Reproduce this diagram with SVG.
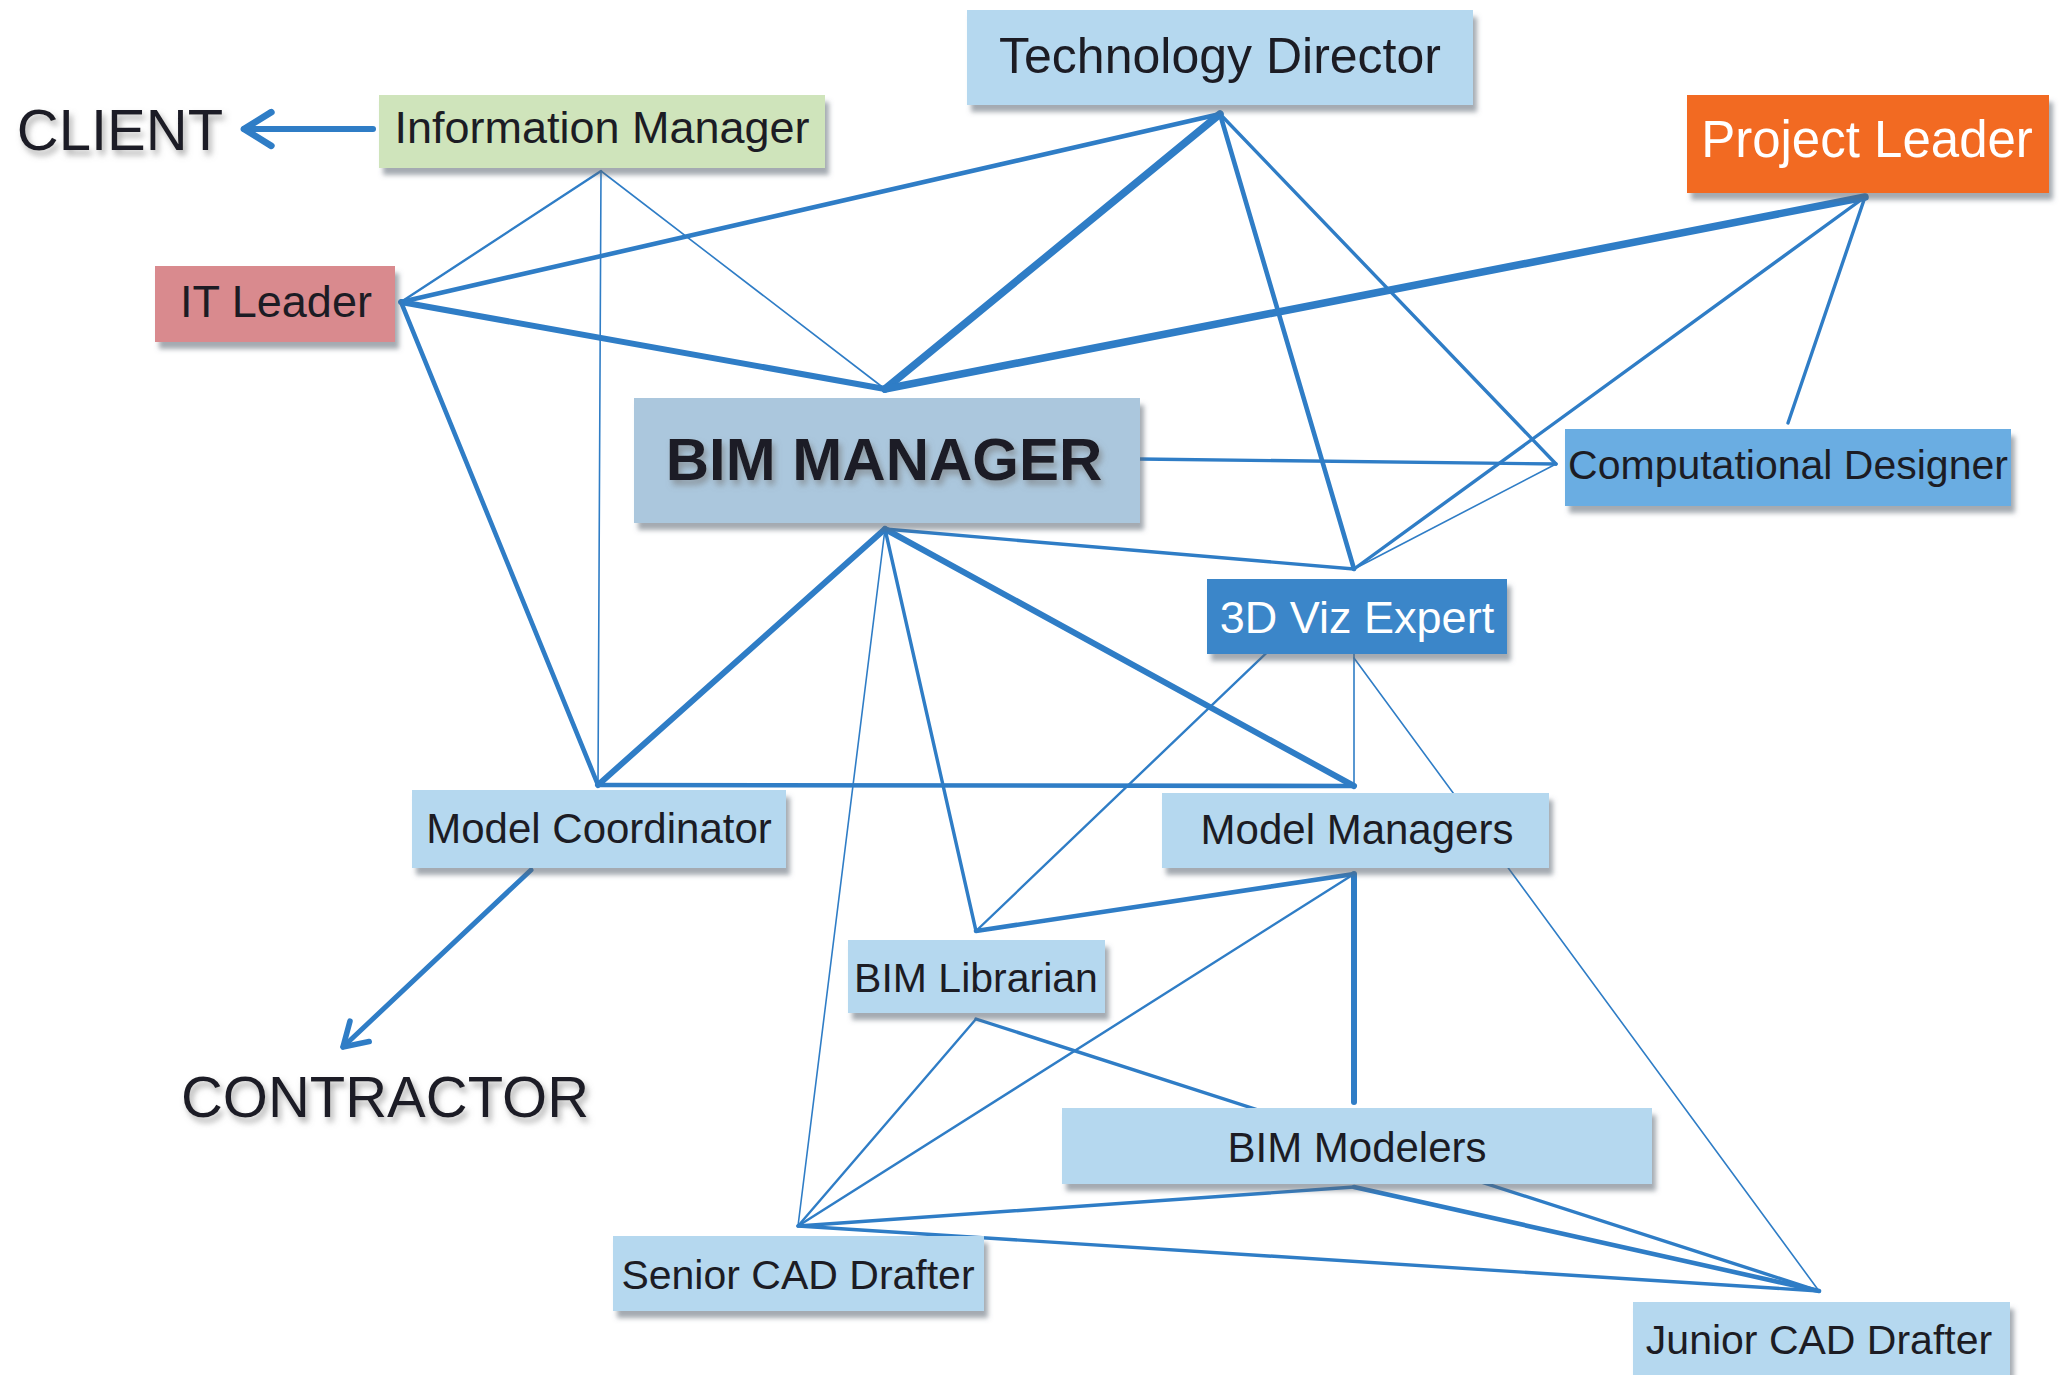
<svg xmlns="http://www.w3.org/2000/svg" width="2062" height="1375" viewBox="0 0 2062 1375">
<defs>
<filter id="sh" x="-10%" y="-10%" width="125%" height="140%">
<feDropShadow dx="4" dy="7" stdDeviation="2.5" flood-color="#5a6470" flood-opacity="0.55"/>
</filter>
<filter id="tsh" x="-10%" y="-20%" width="125%" height="160%">
<feDropShadow dx="3" dy="5" stdDeviation="3" flood-color="#777" flood-opacity="0.6"/>
</filter>
<marker id="chev" viewBox="0 0 20 20" refX="17" refY="10" markerWidth="7" markerHeight="7" orient="auto" markerUnits="strokeWidth">
<path d="M4 2 L17 10 L4 18" fill="none" stroke="#2f7dc6" stroke-width="3.2" stroke-linecap="round" stroke-linejoin="round"/>
</marker>
</defs>
<style>
.c{stroke:#2f7dc6;fill:none;stroke-linecap:round}
.w1{stroke-width:1.6}
.w2{stroke-width:2.4}
.w3{stroke-width:3.4}
.w4{stroke-width:4.6}
.w5{stroke-width:6}
.w6{stroke-width:7.5}
.box{filter:url(#sh)}
.lb{fill:#b5d8ef}
.t{font-family:"Liberation Sans",Arial,sans-serif;fill:#1c1c24;text-anchor:middle}
.big{font-family:"Liberation Sans",Arial,sans-serif;fill:#1e1e26;text-anchor:middle;filter:url(#tsh)}
</style>
<rect width="2062" height="1375" fill="#ffffff"/>
<g id="connectors">
<line class="c w2" x1="601" y1="171" x2="401" y2="302"/>
<line class="c w1" x1="601" y1="171" x2="598" y2="785"/>
<line class="c w1" x1="601" y1="171" x2="885" y2="389"/>
<line class="c w4" x1="401" y1="302" x2="1220" y2="114"/>
<line class="c w5" x1="401" y1="302" x2="885" y2="389"/>
<line class="c w4" x1="401" y1="302" x2="598" y2="785"/>
<line class="c w6" x1="1220" y1="114" x2="885" y2="389"/>
<line class="c w3" x1="1220" y1="114" x2="1556" y2="464"/>
<line class="c w4" x1="1220" y1="114" x2="1354" y2="569"/>
<line class="c w6" x1="1865" y1="197" x2="885" y2="389"/>
<line class="c w3" x1="1865" y1="197" x2="1354" y2="569"/>
<line class="c w3" x1="1865" y1="197" x2="1788" y2="423"/>
<line class="c w3" x1="1139" y1="459" x2="1556" y2="464"/>
<line class="c w1" x1="1556" y1="464" x2="1354" y2="569"/>
<line class="c w3" x1="885" y1="529" x2="1354" y2="569"/>
<line class="c w5" x1="885" y1="529" x2="1354" y2="786"/>
<line class="c w5" x1="885" y1="529" x2="598" y2="785"/>
<line class="c w3" x1="885" y1="529" x2="976" y2="931"/>
<line class="c w1" x1="885" y1="529" x2="798" y2="1226"/>
<line class="c w4" x1="598" y1="785" x2="1354" y2="786"/>
<line class="c w1" x1="1354" y1="620" x2="1354" y2="786"/>
<line class="c w2" x1="1305" y1="616" x2="976" y2="931"/>
<line class="c w1" x1="1354" y1="658" x2="1819" y2="1291"/>
<line class="c w4" x1="1354" y1="874" x2="976" y2="931"/>
<line class="c w5" x1="1354" y1="874" x2="1354" y2="1102"/>
<line class="c w2" x1="1354" y1="874" x2="798" y2="1226"/>
<line class="c w2" x1="976" y1="1019" x2="798" y2="1226"/>
<line class="c w3" x1="976" y1="1019" x2="1819" y2="1291"/>
<line class="c w3" x1="1354" y1="1187" x2="798" y2="1226"/>
<line class="c w4" x1="1354" y1="1187" x2="1819" y2="1291"/>
<line class="c w3" x1="798" y1="1226" x2="1819" y2="1291"/>
<line class="c" stroke-width="6" x1="373" y1="129" x2="244" y2="129" marker-end="url(#chev)"/>
<line class="c" stroke-width="5" x1="531" y1="870" x2="343" y2="1047" marker-end="url(#chev)"/>
</g>
<g id="client"><text class="big" x="120" y="150" font-size="58">CLIENT</text></g>
<g id="contractor"><text class="big" x="385" y="1117" font-size="58">CONTRACTOR</text></g>
<g id="technology-director">
<rect class="box" x="967" y="10" width="506" height="95" fill="#b5d8ef"/>
<text class="t" x="1220" y="73" font-size="50">Technology Director</text>
</g>
<g id="project-leader">
<rect class="box" x="1687" y="95" width="362" height="98" fill="#f26b22"/>
<text class="t" x="1867" y="157" font-size="51" style="fill:#ffffff">Project Leader</text>
</g>
<g id="information-manager">
<rect class="box" x="379" y="95" width="446" height="73" fill="#cfe4bb"/>
<text class="t" x="602" y="143" font-size="45">Information Manager</text>
</g>
<g id="it-leader">
<rect class="box" x="155" y="266" width="240" height="76" fill="#d98a8e"/>
<text class="t" x="276" y="317" font-size="45">IT Leader</text>
</g>
<g id="bim-manager">
<rect class="box" x="634" y="398" width="506" height="125" fill="#abc7dd"/>
<text class="big" x="884" y="480" font-size="60" font-weight="bold">BIM MANAGER</text>
</g>
<g id="computational-designer">
<rect class="box" x="1565" y="429" width="446" height="77" fill="#6badE2"/>
<text class="t" x="1788" y="479" font-size="41">Computational Designer</text>
</g>
<g id="viz-expert">
<rect class="box" x="1207" y="579" width="300" height="75" fill="#3b86c9"/>
<text class="t" x="1357" y="633" font-size="45" style="fill:#ffffff">3D Viz Expert</text>
</g>
<g id="model-coordinator">
<rect class="box lb" x="412" y="790" width="374" height="78"/>
<text class="t" x="599" y="843" font-size="42">Model Coordinator</text>
</g>
<g id="model-managers">
<rect class="box lb" x="1162" y="793" width="387" height="75"/>
<text class="t" x="1357" y="844" font-size="42">Model Managers</text>
</g>
<g id="bim-librarian">
<rect class="box lb" x="848" y="940" width="257" height="73"/>
<text class="t" x="976" y="992" font-size="41">BIM Librarian</text>
</g>
<g id="bim-modelers">
<rect class="box lb" x="1062" y="1108" width="590" height="76"/>
<text class="t" x="1357" y="1162" font-size="42">BIM Modelers</text>
</g>
<g id="senior-cad-drafter">
<rect class="box lb" x="613" y="1236" width="371" height="75"/>
<text class="t" x="798" y="1289" font-size="41">Senior CAD Drafter</text>
</g>
<g id="junior-cad-drafter">
<rect class="box lb" x="1633" y="1302" width="377" height="76"/>
<text class="t" x="1819" y="1354" font-size="41">Junior CAD Drafter</text>
</g>
</svg>
